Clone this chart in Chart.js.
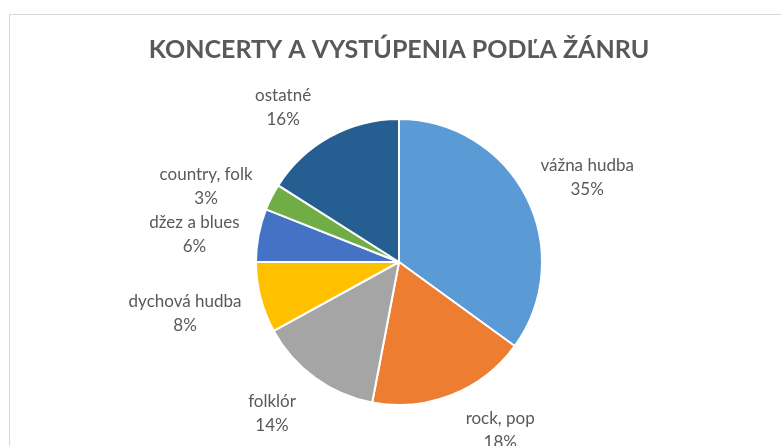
<!DOCTYPE html>
<html>
<head>
<meta charset="utf-8">
<script src="https://cdn.jsdelivr.net/npm/chart.js@4"></script>
<style>
  html, body { margin: 0; padding: 0; background: #fff; }
  #wrap { position: relative; width: 781px; height: 446px; overflow: hidden; }
  #frame { position: absolute; left: 9px; top: 14px; width: 800px; height: 500px; border: 1px solid #d9d9d9; box-sizing: border-box; }
  canvas { position: absolute; left: 0; top: 0; }
</style>
</head>
<body>
<div id="wrap">
  <div id="frame"></div>
  <canvas id="c" width="781" height="446"></canvas>
</div>
<script>
const chartTitle = 'KONCERTY A VYSTÚPENIA PODĽA ŽÁNRU';
const categories = ['vážna hudba', 'rock, pop', 'folklór', 'dychová hudba', 'džez a blues', 'country, folk', 'ostatné'];
const shares = [35, 18, 14, 8, 6, 3, 16];
const sliceColors = ['#5B9BD5', '#ED7D31', '#A5A5A5', '#FFC000', '#4472C4', '#70AD47', '#255E91'];

const FONT = 'Lato, "Open Sans", sans-serif';
const LABEL_SIZE = 17;
const LINE_H = 24;

const outsideLabels = {
  id: 'outsideLabels',
  afterDatasetsDraw(chart) {
    const ctx = chart.ctx;
    const meta = chart.getDatasetMeta(0);
    const total = shares.reduce((a, b) => a + b, 0);
    ctx.save();
    ctx.font = LABEL_SIZE + 'px ' + FONT;
    ctx.fillStyle = '#595959';
    ctx.textAlign = 'center';
    ctx.textBaseline = 'middle';
    meta.data.forEach((arc, i) => {
      const p = arc.getProps(['x', 'y', 'startAngle', 'endAngle', 'outerRadius'], true);
      const mid = (p.startAngle + p.endAngle) / 2;
      const dx = Math.cos(mid), dy = Math.sin(mid);
      const ax = p.x + dx * p.outerRadius;
      const ay = p.y + dy * p.outerRadius;
      const lines = [categories[i], Math.round(shares[i] / total * 100) + '%'];
      const w = Math.max(...lines.map(l => ctx.measureText(l).width));
      const h = lines.length * LINE_H;
      const gap = dx < 0 ? 19 : 14;
      const cx = ax + Math.sign(dx) * (w / 2 + gap);
      const cy = ay + dy * (h / 2 + 14) + 2 - dx * 5;
      lines.forEach((l, k) => {
        ctx.fillText(l, cx, cy - h / 2 + LINE_H / 2 + k * LINE_H);
      });
    });
    ctx.restore();
  }
};

new Chart(document.getElementById('c'), {
  type: 'pie',
  data: {
    labels: categories,
    datasets: [{
      data: shares,
      backgroundColor: sliceColors,
      borderColor: '#ffffff',
      borderWidth: 2
    }]
  },
  options: {
    responsive: false,
    animation: false,
    layout: { padding: { left: 17, right: 0, top: 0, bottom: 40 } },
    plugins: {
      legend: { display: false },
      tooltip: { enabled: false },
      title: {
        display: true,
        text: chartTitle,
        color: '#595959',
        font: { family: FONT, size: 25, weight: 'bold', lineHeight: 1.2 },
        padding: { top: 35, bottom: 53 }
      }
    }
  },
  plugins: [outsideLabels]
});
</script>
</body>
</html>
